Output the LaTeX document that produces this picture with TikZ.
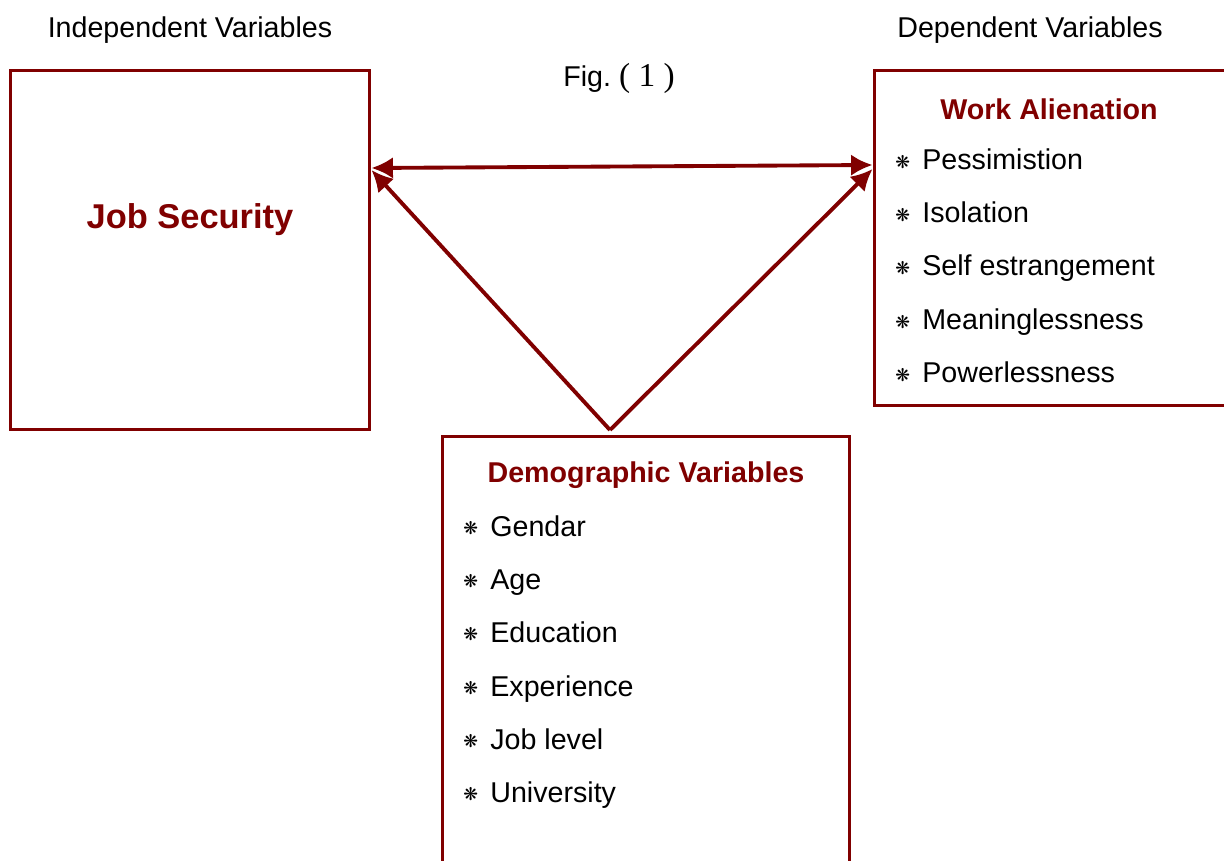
\documentclass[tikz,border=0pt]{standalone}
\usepackage{fontspec}
\setmainfont{Liberation Sans}
\newfontfamily\figfont{Liberation Serif}
\newfontfamily\symfont{DejaVu Sans}
\usepackage{xcolor}
\usepackage{tikz}
\usetikzlibrary{arrows.meta, positioning}
\definecolor{darkred}{RGB}{128,0,0}
\newcommand{\astbul}{\makebox[0.54cm][l]{\raisebox{0.1ex}{\symfont\fontsize{10}{10}\selectfont ❋}}}
\tikzstyle{heading} = [font=\bfseries\fontsize{16.3}{19}\selectfont, text=darkred]
\tikzstyle{arrow} = [line width=2.2pt, draw=darkred, {Latex[length=4.3mm, width=4.3mm]}-{Latex[length=4.3mm, width=4.3mm]}]

\begin{document}
\begin{tikzpicture}[
        x=0.02cm, y=-0.02cm,
        % Define styles for the frames and the listed factors
        var_box/.style={draw=darkred, line width=1.7pt, inner sep=0pt},
        plain_txt/.style={font=\fontsize{16.3}{19}\selectfont},
        list_item/.style={plain_txt, anchor=base west, inner sep=0pt}
    ]
        \useasboundingbox (0,0) rectangle (1224,861);
        \clip (0,0) rectangle (1224,861);

        % --- Titles above the frames ---
        \node (indep_lbl) [plain_txt] at (190,30) {Independent Variables};
        \node (dep_lbl)   [plain_txt] at (1030,30) {Dependent Variables};
        \node (fig_lbl)   [plain_txt] at (619,78) {Fig.\ {\figfont\fontsize{19}{21}\selectfont ( 1 )}};

        % --- Frames at fixed positions ---
        \node (js_box)   [var_box, minimum width=7.2cm, minimum height=7.2cm] at (190,250) {};
        \node (wa_box)   [var_box, minimum width=7.32cm, minimum height=6.72cm] at (1057,238) {};
        \node (demo_box) [var_box, minimum width=8.16cm, minimum height=9.28cm] at (646,668) {};

        % --- Frame headings ---
        \node (js_title)   [heading, font=\bfseries\fontsize{19.6}{23}\selectfont] at (190,220) {Job Security};
        \node (wa_title)   [heading] at (1049,109) {Work Alienation};
        \node (demo_title) [heading] at (646,475) {Demographic Variables};

        % --- Dependent variable items ---
        \node (wa_a) [list_item] at (895,170) {\astbul Pessimistion};
        \node (wa_b) [list_item] at (895,223) {\astbul Isolation};
        \node (wa_c) [list_item] at (895,276) {\astbul Self estrangement};
        \node (wa_d) [list_item] at (895,330) {\astbul Meaninglessness};
        \node (wa_e) [list_item] at (895,383) {\astbul Powerlessness};

        % --- Demographic items ---
        \node (dm_a) [list_item] at (463,536) {\astbul Gendar};
        \node (dm_b) [list_item] at (463,589) {\astbul Age};
        \node (dm_c) [list_item] at (463,642) {\astbul Education};
        \node (dm_d) [list_item] at (463,696) {\astbul Experience};
        \node (dm_e) [list_item] at (463,749) {\astbul Job level};
        \node (dm_f) [list_item] at (463,802) {\astbul University};

        % --- Ports where the arrows meet the frames ---
        \coordinate (js_port)  at (js_box.east |- 0,168);
        \coordinate (wa_port)  at (wa_box.west |- 0,165);
        \coordinate (js_low)   at (js_box.east |- 0,170);
        \coordinate (wa_low)   at (wa_box.west |- 0,169);
        \coordinate (apex)     at (610,430);

        % --- Arrows between the variables ---
        \draw[arrow] (js_port) -- (wa_port);
        \draw[arrow, {Latex[length=4.3mm, width=4.3mm]}-] (js_low) -- (apex);
        \draw[arrow, -{Latex[length=4.3mm, width=4.3mm]}] (apex) -- (wa_low);

    \end{tikzpicture}
\end{document}
